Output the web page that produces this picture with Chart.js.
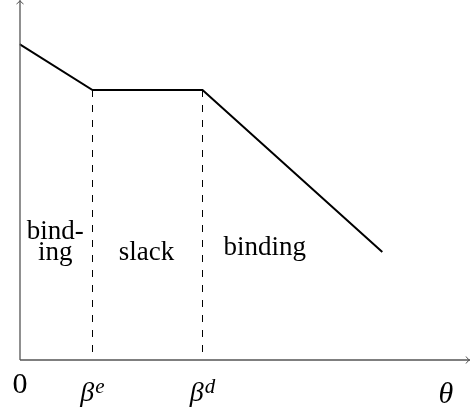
<!DOCTYPE html>
<html>
<head>
<meta charset="utf-8">
<script src="https://cdn.jsdelivr.net/npm/chart.js@4.4.1/dist/chart.umd.min.js"></script>
<style>
    html, body { margin: 0; padding: 0; background: #fff; }
    #wrap { width: 470px; height: 414px; position: relative; }
</style>
</head>
<body>
<div id="wrap"><canvas id="chart" width="470" height="414"></canvas></div>
<script>
// Kinked curve (theta -> value)
const thetaValues = [0, 1, 2.507, 4.97];
const curveValues = [7.02, 6, 6, 2.4];

// Thresholds beta^e and beta^d
const thresholdValues = [1, 2.507];
const thresholdNames = [['β', 'e'], ['β', 'd']];

// Region labels, centred in theta units
const regionCenters = [0.49, 1.74, 3.36];
const regionNames = [['bind-', 'ing'], ['slack'], ['binding']];

const originLabel = '0';
const axisLabel = 'θ';
const axisLabelAt = 5.84;

const xMax = 450.5 / 73;
const yMax = 8;

const SERIF = '"Liberation Serif", "DejaVu Serif", serif';

const curvePoints = thetaValues.map((t, i) => ({ x: t, y: curveValues[i] }));

// one dashed segment per threshold, from the curve down to the axis
const thresholdSets = thresholdValues.map(t => {
    const i = thetaValues.indexOf(t);
    return {
        data: [{ x: t, y: curveValues[i] }, { x: t, y: 0 }],
        borderColor: '#000',
        borderWidth: 1,
        borderDash: [7, 8],
        pointRadius: 0,
        order: 2
    };
});

const axesPlugin = {
    id: 'axesAndText',
    afterDraw(chart) {
        const { ctx, chartArea, scales } = chart;
        const xs = scales.x;
        const x0 = chartArea.left + 0.5, y0 = chartArea.bottom;

        ctx.save();
        // axes
        ctx.strokeStyle = '#555';
        ctx.lineWidth = 1.3;
        ctx.beginPath();
        ctx.moveTo(x0, y0);
        ctx.lineTo(x0, chartArea.top + 0.5);
        ctx.moveTo(x0, y0);
        ctx.lineTo(chartArea.right, y0);
        ctx.stroke();
        // arrow tips
        ctx.lineWidth = 1;
        ctx.beginPath();
        ctx.moveTo(x0 - 3.5, chartArea.top + 4);
        ctx.quadraticCurveTo(x0 - 0.5, chartArea.top + 2, x0, chartArea.top + 0.5);
        ctx.quadraticCurveTo(x0 + 0.5, chartArea.top + 2, x0 + 3.5, chartArea.top + 4);
        ctx.moveTo(chartArea.right - 4, y0 - 3.5);
        ctx.quadraticCurveTo(chartArea.right - 2, y0 - 0.5, chartArea.right - 0.5, y0);
        ctx.quadraticCurveTo(chartArea.right - 2, y0 + 0.5, chartArea.right - 4, y0 + 3.5);
        ctx.stroke();

        ctx.fillStyle = '#000';
        ctx.textAlign = 'center';
        ctx.textBaseline = 'alphabetic';

        // origin
        ctx.font = '30px ' + SERIF;
        ctx.fillText(originLabel, x0, 393);

        // threshold labels with superscripts
        thresholdValues.forEach((t, i) => {
            const px = xs.getPixelForValue(t);
            const [base, sup] = thresholdNames[i];
            ctx.font = 'italic 28px ' + SERIF;
            const wb = ctx.measureText(base).width;
            ctx.font = 'italic 21px ' + SERIF;
            const ws = ctx.measureText(sup).width;
            const left = px - (wb + ws + 1) / 2;
            ctx.textAlign = 'left';
            ctx.font = 'italic 28px ' + SERIF;
            ctx.fillText(base, left, 401);
            ctx.font = 'italic 21px ' + SERIF;
            ctx.fillText(sup, left + wb + 1, 393);
            ctx.textAlign = 'center';
        });

        // axis label
        ctx.font = 'italic 30px ' + SERIF;
        ctx.fillText(axisLabel, xs.getPixelForValue(axisLabelAt), 403);

        // region labels
        ctx.font = '27px ' + SERIF;
        const baselines = [[239, 260], [260], [255]];
        regionNames.forEach((lines, i) => {
            const px = xs.getPixelForValue(regionCenters[i]);
            lines.forEach((txt, j) => ctx.fillText(txt, px, baselines[i][j]));
        });
        ctx.restore();
    }
};

new Chart(document.getElementById('chart'), {
    type: 'line',
    data: {
        datasets: [
            {
                data: curvePoints,
                borderColor: '#000',
                borderWidth: 2,
                pointRadius: 0,
                tension: 0,
                order: 1
            },
            ...thresholdSets
        ]
    },
    options: {
        responsive: false,
        animation: false,
        layout: { padding: { left: 19.5, right: 0, top: 0, bottom: 54 } },
        plugins: { legend: { display: false }, tooltip: { enabled: false } },
        scales: {
            x: { type: 'linear', min: 0, max: xMax, display: false },
            y: { type: 'linear', min: 0, max: yMax, display: false }
        }
    },
    plugins: [axesPlugin]
});
</script>
</body>
</html>
